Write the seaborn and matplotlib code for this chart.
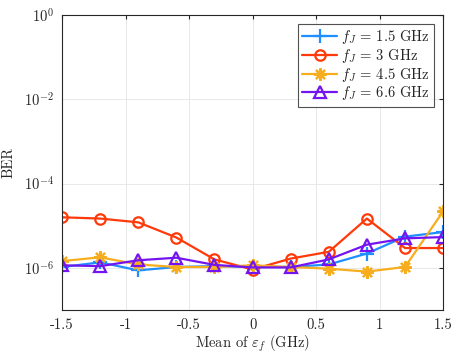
import numpy as np
import pandas as pd
import seaborn as sns
import matplotlib
matplotlib.use("Agg")
import matplotlib.pyplot as plt

# mean of eps_f (GHz)
x_vals = [-1.5, -1.2, -0.9, -0.6, -0.3, 0.0, 0.3, 0.6, 0.9, 1.2, 1.5]

# log10(BER)
log_ber_15 = [-5.98, -5.87, -6.06, -5.98, -5.96, -5.98, -5.98, -5.92, -5.66, -5.26, -5.15]
log_ber_30 = [-4.80, -4.83, -4.92, -5.28, -5.80, -6.04, -5.78, -5.62, -4.83, -5.53, -5.53]
log_ber_45 = [-5.84, -5.75, -5.92, -5.98, -5.98, -5.94, -5.98, -6.02, -6.09, -5.98, -4.66]
log_ber_66 = [-5.94, -5.96, -5.82, -5.76, -5.93, -5.99, -5.99, -5.80, -5.45, -5.30, -5.27]

labels = [r"$f_J$ = 1.5 GHz", r"$f_J$ = 3 GHz", r"$f_J$ = 4.5 GHz", r"$f_J$ = 6.6 GHz"]
colors = ["#1f8fff", "#ff3a0a", "#f7ae1e", "#7415f0"]
markers = ["+", "o", (8, 2, 0), "^"]

xticks = [-1.5, -1, -0.5, 0, 0.5, 1, 1.5]
xtick_labels = ["-1.5", "-1", "-0.5", "0", "0.5", "1", "1.5"]
yticks = [1e-6, 1e-4, 1e-2, 1e0]


def configure_style():
  sns.set_style("white")
  matplotlib.rcParams["font.family"] = "serif"
  matplotlib.rcParams["font.serif"] = ["cmr10", "DejaVu Serif"]
  matplotlib.rcParams["mathtext.fontset"] = "cm"
  matplotlib.rcParams["axes.unicode_minus"] = False
  matplotlib.rcParams["axes.formatter.use_mathtext"] = True


def main():
  configure_style()
  fig = plt.figure(figsize=(4.63, 3.6), dpi=100)
  ax = fig.add_axes([0.134, 0.139, 0.823, 0.819])

  series = [log_ber_15, log_ber_30, log_ber_45, log_ber_66]
  sizes = [10, 7.5, 9, 8]
  for vals, lab, col, mk, ms in zip(series, labels, colors, markers, sizes):
    df = pd.DataFrame({"x": x_vals, "ber": 10 ** np.array(vals)})
    sns.lineplot(data=df, x="x", y="ber", ax=ax, color=col, label=lab,
                 marker=mk, markersize=ms, markerfacecolor="none",
                 markeredgecolor=col, markeredgewidth=1.6, linewidth=1.6)

  ax.set_yscale("log")
  ax.set_xlim(-1.5, 1.5)
  ax.set_ylim(1e-7, 1)
  ax.set_xticks(xticks, labels=xtick_labels)
  ax.set_yticks(yticks)
  ax.yaxis.set_minor_locator(matplotlib.ticker.NullLocator())
  ax.grid(True, color="#e8e8e8", linewidth=0.7)
  ax.set_axisbelow(True)
  for sp in ax.spines.values():
    sp.set_color("#262626")
    sp.set_linewidth(0.8)
  ax.tick_params(direction="in", length=3, labelsize=10.5, color="#262626",
                 top=True, right=True, pad=6)
  ax.set_xlabel(r"Mean of $\varepsilon_f$ (GHz)", fontsize=10.5, labelpad=1)
  ax.set_ylabel("BER", fontsize=10.5, labelpad=6)

  leg = ax.legend(loc="upper right", fontsize=10.5, frameon=True, fancybox=False,
                  handlelength=2.4, handletextpad=0.3, borderpad=0.3,
                  labelspacing=0.05, borderaxespad=0.6)
  leg.get_frame().set_edgecolor("#262626")
  leg.get_frame().set_linewidth(0.8)

  fig.savefig("out.png", dpi=100)
  plt.close(fig)


if __name__ == "__main__":
  main()
